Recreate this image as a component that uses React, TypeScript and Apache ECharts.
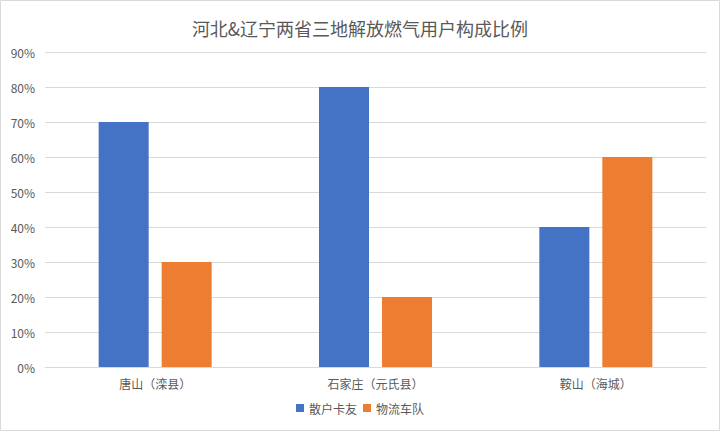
import React, { useEffect, useRef } from "react";
import * as echarts from "echarts";

const title = "河北&辽宁两省三地解放燃气用户构成比例";
const categories = ["唐山（滦县）", "石家庄（元氏县）", "鞍山（海城）"];
const seriesNames = ["散户卡友", "物流车队"];
const retailValues = [70, 80, 40];
const fleetValues = [30, 20, 60];
const colors = ["#4472C4", "#ED7D31"];

export default function App() {
  const ref = useRef<HTMLDivElement>(null);
  useEffect(() => {
    const chart = echarts.init(ref.current!, null, { renderer: "svg" });
    const font = "'Noto Sans CJK SC', 'Noto Sans', sans-serif";
    chart.setOption({
      animation: false,
      backgroundColor: "#ffffff",
      textStyle: { fontFamily: font },
      title: {
        text: title,
        left: "center",
        top: 14,
        textStyle: { fontSize: 18, fontWeight: "normal", color: "#595959", fontFamily: font },
      },
      graphic: [
        {
          type: "rect",
          shape: { x: 0.5, y: 0.5, width: 719, height: 430 },
          style: { fill: "none", stroke: "#d9d9d9", lineWidth: 1 },
          silent: true,
        },
      ],
      legend: {
        bottom: 12,
        left: "center",
        itemWidth: 8,
        itemHeight: 8,
        itemGap: 6,
        icon: "rect",
        textStyle: { fontSize: 12, color: "#595959", fontFamily: font },
        data: seriesNames,
      },
      grid: { left: 45, right: 14, top: 52, bottom: 64, containLabel: false },
      xAxis: {
        type: "category",
        data: categories,
        axisLine: { lineStyle: { color: "#d9d9d9" } },
        axisTick: { show: false },
        axisLabel: { fontSize: 12, color: "#595959", margin: 10, fontFamily: font },
      },
      yAxis: {
        type: "value",
        min: 0,
        max: 90,
        interval: 10,
        axisLine: { show: false },
        axisTick: { show: false },
        splitLine: { lineStyle: { color: "#d9d9d9" } },
        axisLabel: { fontSize: 12, color: "#595959", formatter: "{value}%", margin: 10, fontFamily: font },
      },
      series: [
        {
          name: seriesNames[0],
          type: "bar",
          data: retailValues,
          barWidth: 50,
          barGap: "26%",
          itemStyle: { color: colors[0] },
        },
        {
          name: seriesNames[1],
          type: "bar",
          data: fleetValues,
          barWidth: 50,
          barGap: "26%",
          itemStyle: { color: colors[1] },
        },
      ],
    });
    return () => chart.dispose();
  }, []);
  return (
    <div
      ref={ref}
      style={{ position: "fixed", left: 0, top: 0, width: 720, height: 431 }}
    />
  );
}
